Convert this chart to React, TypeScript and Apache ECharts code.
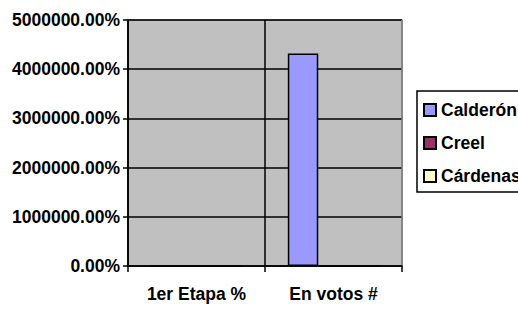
import React, { useEffect, useRef } from "react";
import * as echarts from "echarts";

const categories = ["1er Etapa %", "En votos #"];
const seriesNames = ["Calderón", "Creel", "Cárdenas"];
const calderon = [0, 43200];
const creel = [0, 0];
const cardenas = [0, 0];
const yMin = 0;
const yMax = 50000;
const yInterval = 10000;

const colors = ["#9999FF", "#993366", "#FFFFCC"];
const FONT = "'Liberation Sans', Arial, sans-serif";
const FS = 17.5;

export default function App() {
  const ref = useRef<HTMLDivElement>(null);
  useEffect(() => {
    if (!ref.current) return;
    const chart = echarts.init(ref.current, null, { renderer: "svg" });
    const values = [calderon, creel, cardenas];
    chart.setOption({
      animation: false,
      backgroundColor: "#ffffff",
      textStyle: { fontFamily: FONT },
      grid: {
        left: 128,
        right: 116,
        top: 20,
        bottom: 43,
        show: true,
        backgroundColor: "#C0C0C0",
        borderColor: "#808080",
        borderWidth: 1.5,
      },
      legend: {
        orient: "vertical",
        left: 417,
        top: 91,
        padding: [9, 40, 6, 6],
        itemGap: 13,
        itemWidth: 12,
        itemHeight: 12,
        borderColor: "#000",
        borderWidth: 1.5,
        backgroundColor: "#fff",
        icon: "rect",
        data: seriesNames,
        textStyle: {
          fontFamily: FONT,
          fontWeight: "bold",
          fontSize: FS,
          color: "#000",
          lineHeight: 20,
        },
      },
      xAxis: {
        type: "category",
        data: categories,
        axisLine: { lineStyle: { color: "#000", width: 1.5 } },
        axisTick: { show: true, length: 6, lineStyle: { color: "#000", width: 1.5 } },
        splitLine: { show: true, lineStyle: { color: ["#000", "#000", "#808080"], width: 1.5 } },
        axisLabel: {
          margin: 19,
          fontFamily: FONT,
          fontWeight: "bold",
          fontSize: FS,
          color: "#000",
        },
      },
      yAxis: {
        type: "value",
        min: yMin,
        max: yMax,
        interval: yInterval,
        axisLine: { show: true, lineStyle: { color: "#000", width: 1.5 } },
        axisTick: { show: true, length: 5, lineStyle: { color: "#000", width: 1.5 } },
        splitLine: { show: true, lineStyle: { color: "#000", width: 1.5 } },
        axisLabel: {
          margin: 8,
          fontFamily: FONT,
          fontWeight: "bold",
          fontSize: FS,
          color: "#000",
          formatter: (v: number) => (v * 100).toFixed(2) + "%",
        },
      },
      series: seriesNames.map((name, i) => ({
        name,
        type: "bar",
        data: values[i],
        barGap: "0%",
        barCategoryGap: "33.3%",
        itemStyle: { color: colors[i], borderColor: "#000", borderWidth: 1.5 },
      })),
    });
    return () => chart.dispose();
  }, []);
  return <div ref={ref} style={{ width: 518, height: 309, position: "absolute", left: 0, top: 0 }} />;
}
